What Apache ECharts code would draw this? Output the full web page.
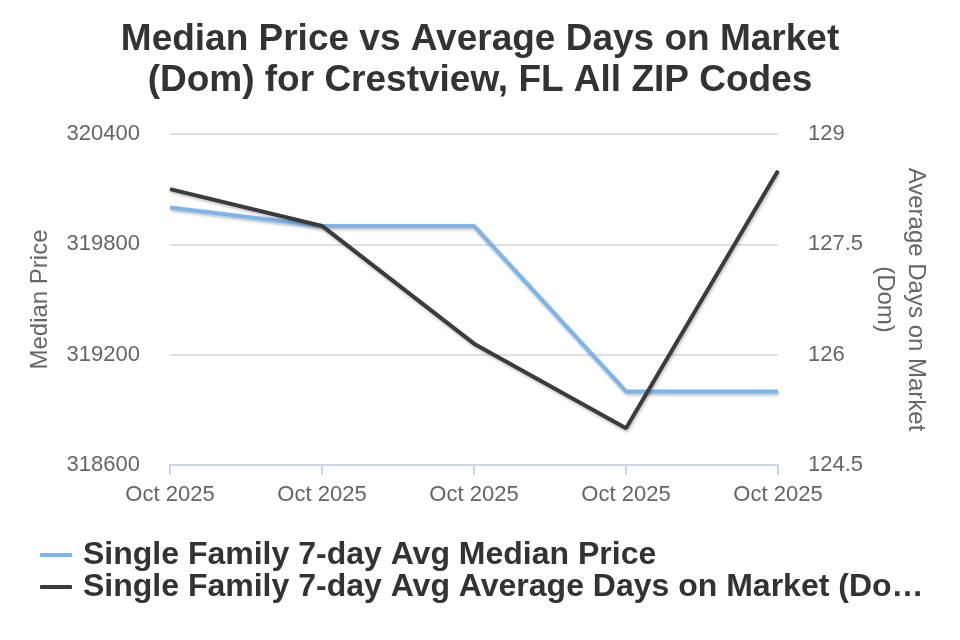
<!DOCTYPE html>
<html>
<head>
<meta charset="UTF-8">
<title>Median Price vs DOM</title>
<script src="https://cdn.jsdelivr.net/npm/echarts@6/dist/echarts.min.js"></script>
<style>
body{margin:0;background:#fff;}
#chart{width:960px;height:640px;}
</style>
</head>
<body>
<div id="chart"></div>
<script>

const dates = ["Oct 2025","Oct 2025","Oct 2025","Oct 2025","Oct 2025"]
const medianPrice = [320000,319900,319900,319000,319000]
const daysOnMarket = [128.25,127.75,126.15,125,128.5]

const priceName = "Single Family 7-day Avg Median Price"
const domName = "Single Family 7-day Avg Average Days on Market (Dom)"

const chart = echarts.init(document.getElementById("chart"))

const labelStyle = { color:"#666", fontSize:22, fontFamily:"Liberation Sans" }
const nameStyle = { color:"#666", fontSize:24, fontFamily:"Liberation Sans" }

chart.setOption({
 animation:false,
 title:{
  text:"Median Price vs Average Days on Market\n(Dom) for Crestview, FL All ZIP Codes",
  left:"center",
  top:14,
  textStyle:{
   color:"#333",
   fontSize:37,
   fontWeight:"bold",
   fontFamily:"Liberation Sans",
   lineHeight:41
  }
 },
 grid:{ left:170, right:182, top:134, bottom:175 },
 legend:{
  orient:"vertical",
  left:35,
  top:534,
  itemWidth:32,
  itemHeight:4,
  itemGap:0,
  icon:"roundRect",
  textStyle:{
   color:"#333",
   fontSize:32,
   fontWeight:"bold",
   fontFamily:"Liberation Sans",
   padding:[0,0,0,6],
   width:842,
   overflow:"truncate",
   ellipsis:"…"
  },
  data:[priceName,domName]
 },
 xAxis:{
  type:"category",
  data:dates,
  boundaryGap:false,
  axisLine:{ lineStyle:{ color:"#ccd6eb", width:2 } },
  axisTick:{ length:10, lineStyle:{ color:"#ccd6eb", width:2 } },
  axisLabel:Object.assign({ interval:0, margin:19 },labelStyle)
 },
 yAxis:[
  {
   type:"value",
   name:"Median Price",
   nameLocation:"middle",
   nameGap:118,
   nameTextStyle:nameStyle,
   min:318600,
   max:320400,
   interval:600,
   axisLabel:Object.assign({ margin:30, formatter:v=>String(v) },labelStyle),
   splitLine:{ lineStyle:{ color:"#e0e0e0", width:2 } }
  },
  {
   type:"value",
   name:"Average Days on Market\n(Dom)",
   nameLocation:"middle",
   nameGap:91,
   nameMoveOverlap:false,
   nameRotate:-90,
   nameTextStyle:Object.assign({ lineHeight:31 },nameStyle),
   min:124.5,
   max:129,
   interval:1.5,
   axisLabel:Object.assign({ margin:30, formatter:v=>String(v) },labelStyle),
   splitLine:{ show:false }
  }
 ],
 series:[
  {
   name:priceName,
   type:"line",
   yAxisIndex:0,
   data:medianPrice,
   symbol:"none",
   color:"#7cb5ec",
   lineStyle:{ width:4, color:"#7cb5ec", shadowColor:"rgba(0,0,0,0.25)", shadowBlur:3, shadowOffsetX:1, shadowOffsetY:2 }
  },
  {
   name:domName,
   type:"line",
   yAxisIndex:1,
   data:daysOnMarket,
   symbol:"none",
   color:"#3b3b3e",
   lineStyle:{ width:4, color:"#3b3b3e", shadowColor:"rgba(0,0,0,0.25)", shadowBlur:3, shadowOffsetX:1, shadowOffsetY:2 }
  }
 ]
})

</script>
</body>
</html>
